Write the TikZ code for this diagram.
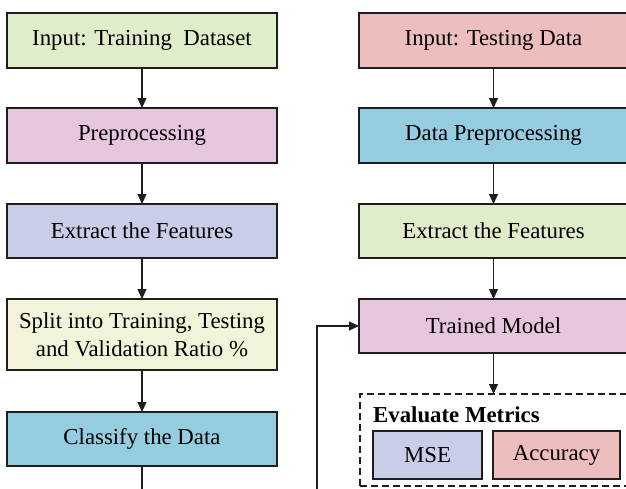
\documentclass[tikz,border=0pt]{standalone}
\usepackage{fontspec}
\setmainfont{Liberation Serif}
\usetikzlibrary{arrows.meta}

\definecolor{boxgreen}{HTML}{DFEDCB}
\definecolor{boxpink}{HTML}{E6C6DE}
\definecolor{boxlav}{HTML}{C9CDE7}
\definecolor{boxyellow}{HTML}{F2F3D9}
\definecolor{boxblue}{HTML}{96CCE0}
\definecolor{boxred}{HTML}{EEBEBE}
\definecolor{edge}{HTML}{1E1E1E}

\tikzset{
  flowbox/.style={draw=edge, line width=1.3pt, inner sep=0pt, outer sep=0pt,
    minimum width=#1, align=center,
    font=\fontsize{22.8}{28}\selectfont},
  flowbox/.default=270pt,
  arr/.style={draw=edge, line width=1.2pt,
    -{Triangle[width=9pt,length=10pt]}},
  groupbox/.style={draw=edge, line width=1.7pt, dash pattern=on 7pt off 4pt}
}

\begin{document}
\begin{tikzpicture}[x=1pt, y=-1pt]
\useasboundingbox (0,0) rectangle (626,488);
\clip (0,0) rectangle (626,488);
\fill[white] (0,0) rectangle (626,488);

% training column
\node[flowbox, fill=boxgreen,  minimum height=55pt] (tin)   at (142,40.5) {Input: Training\ \ Dataset};
\node[flowbox, fill=boxpink,   minimum height=55pt] (tpre)  at (142,135.5) {Preprocessing};
\node[flowbox, fill=boxlav,    minimum height=54pt] (tfeat) at (142,231) {Extract the Features};
\node[flowbox, fill=boxyellow, minimum height=71pt] (split) at (142,334.5) {Split into Training, Testing\\and Validation Ratio \%};
\node[flowbox, fill=boxblue,   minimum height=54pt] (cls)   at (142,439) {Classify the Data};

% testing column
\node[flowbox=269pt, fill=boxred,   minimum height=55pt] (sin)   at (493.5,40.5) {Input: Testing Data};
\node[flowbox=269pt, fill=boxblue,  minimum height=55pt] (spre)  at (493.5,135.5) {Data Preprocessing};
\node[flowbox=269pt, fill=boxgreen, minimum height=54pt] (sfeat) at (493.5,231) {Extract the Features};
\node[flowbox=269pt, fill=boxpink,  minimum height=54pt] (model) at (493.5,326) {Trained Model};

% evaluation group
\node[groupbox, inner sep=0pt, outer sep=0pt, minimum width=280pt, minimum height=92pt,
      anchor=north west] (eval) at (360,394) {};
\node[anchor=base west, inner sep=0pt, font=\fontsize{22.8}{28}\selectfont\bfseries]
      (evaltitle) at (373,422) {Evaluate Metrics};
\node[flowbox=109pt, fill=boxlav, minimum height=48pt] (mse) at (427.5,455) {MSE};
\node[flowbox=127pt, fill=boxred, minimum height=48pt] (acc) at (556.5,455) {Accuracy};

% connectors
\draw[arr] (tin) -- (tpre);
\draw[arr] (tpre) -- (tfeat);
\draw[arr] (tfeat) -- (split);
\draw[arr] (split) -- (cls);

\draw[arr] (sin) -- (spre);
\draw[arr] (spre) -- (sfeat);
\draw[arr] (sfeat) -- (model);
\draw[arr] (model.south) -- (model.south |- eval.north);

\coordinate (loop) at (317,505);
\draw[arr] (cls.south) |- (loop) |- (model.west);
\end{tikzpicture}
\end{document}
